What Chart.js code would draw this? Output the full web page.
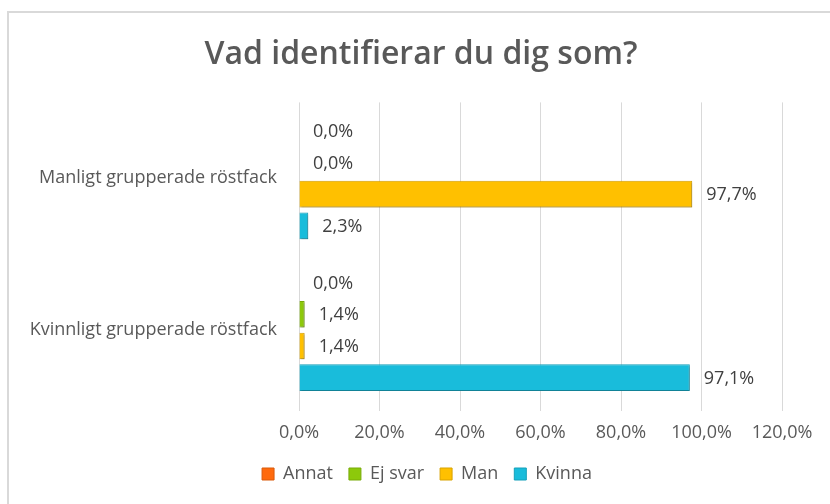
<!DOCTYPE html>
<html>
<head>
<meta charset="utf-8">
<script src="https://cdn.jsdelivr.net/npm/chart.js@4/dist/chart.umd.min.js"></script>
<style>
  html, body { margin: 0; padding: 0; background: #ffffff; width: 830px; height: 504px; overflow: hidden; }
  #frame { position: absolute; left: 7px; top: 11px; width: 900px; height: 600px; border: 2px solid #D9D9D9; box-sizing: border-box; }
  #c { position: absolute; left: 0; top: 0; }
</style>
</head>
<body>
<div id="frame"></div>
<canvas id="c" width="830" height="504"></canvas>
<script>
const categories = ["Manligt grupperade röstfack", "Kvinnligt grupperade röstfack"];
const seriesNames = ["Annat", "Ej svar", "Man", "Kvinna"];
const annat  = [0.0, 0.0];
const ejSvar = [0.0, 1.4];
const man    = [97.7, 1.4];
const kvinna = [2.3, 97.1];
const xTicks = [0, 20, 40, 60, 80, 100, 120];

const colors = ["#FF6A0D", "#8DC90B", "#FFC000", "#19BCDB"];
const borders = ["#D95A0B", "#78AB09", "#D9A300", "#15A0BA"];
const FONT = "'Open Sans', 'DejaVu Sans', sans-serif";
const fmt = v => v.toFixed(1).replace('.', ',') + '%';

const values = [annat, ejSvar, man, kvinna];
const datasets = seriesNames.map((n, i) => ({
  label: n,
  data: values[i],
  backgroundColor: colors[i],
  borderColor: borders[i],
  borderWidth: 1,
  categoryPercentage: 0.835,
  barPercentage: 0.84
}));

const shadowPlugin = {
  id: 'shadow',
  beforeDatasetDraw(chart) {
    const ctx = chart.ctx;
    ctx.save();
    ctx.shadowColor = 'rgba(0,0,0,0.28)';
    ctx.shadowBlur = 2;
    ctx.shadowOffsetX = 1;
    ctx.shadowOffsetY = 1.5;
  },
  afterDatasetDraw(chart) { chart.ctx.restore(); }
};

const labelPlugin = {
  id: 'valueLabels',
  afterDatasetsDraw(chart) {
    const ctx = chart.ctx;
    ctx.save();
    ctx.font = "18px " + FONT;
    ctx.fillStyle = "#404040";
    ctx.textAlign = "left";
    ctx.textBaseline = "middle";
    chart.data.datasets.forEach((ds, di) => {
      const meta = chart.getDatasetMeta(di);
      meta.data.forEach((el, i) => {
        ctx.fillText(fmt(ds.data[i]), el.x + 14, el.y + 1);
      });
    });
    ctx.restore();
  }
};

const blockShift = {
  id: 'blockShift',
  afterLayout(chart) {
    const lg = chart.legend;
    if (lg) { lg.left += 21; lg.right += 21; }
    const tb = chart.titleBlock;
    if (tb) { tb.left += 15; tb.right += 15; }
  }
};

new Chart(document.getElementById('c'), {
  type: 'bar',
  data: { labels: categories, datasets },
  plugins: [shadowPlugin, labelPlugin, blockShift],
  options: {
    indexAxis: 'y',
    responsive: false,
    animation: false,
    layout: { padding: { left: 30, right: 48, top: 0, bottom: 11 } },
    plugins: {
      title: {
        display: true,
        text: 'Vad identifierar du dig som?',
        color: '#595959',
        font: { family: FONT, size: 32, weight: '600', lineHeight: 1.2 },
        padding: { top: 36, bottom: 28 }
      },
      legend: {
        position: 'bottom',
        labels: {
          boxWidth: 12, boxHeight: 12,
          color: '#595959',
          font: { family: FONT, size: 18 },
          padding: 16
        }
      },
      tooltip: { enabled: false }
    },
    scales: {
      x: {
        min: 0, max: 120,
        afterBuildTicks(s) { s.ticks = xTicks.map(v => ({ value: v })); },
        afterFit(s) { s.height = 43; },
        grid: { color: '#D9D9D9', lineWidth: 1, drawTicks: true, tickLength: 5, tickColor: '#D9D9D9' },
        border: { display: false },
        ticks: { color: '#595959', font: { family: FONT, size: 18 }, padding: 11, callback: v => fmt(v) }
      },
      y: {
        afterFit(s) { s.width = 269; },
        grid: { display: false, drawTicks: false },
        border: { display: false },
        ticks: { color: '#595959', font: { family: FONT, size: 18 }, padding: 22 }
      }
    }
  }
});
</script>
</body>
</html>
